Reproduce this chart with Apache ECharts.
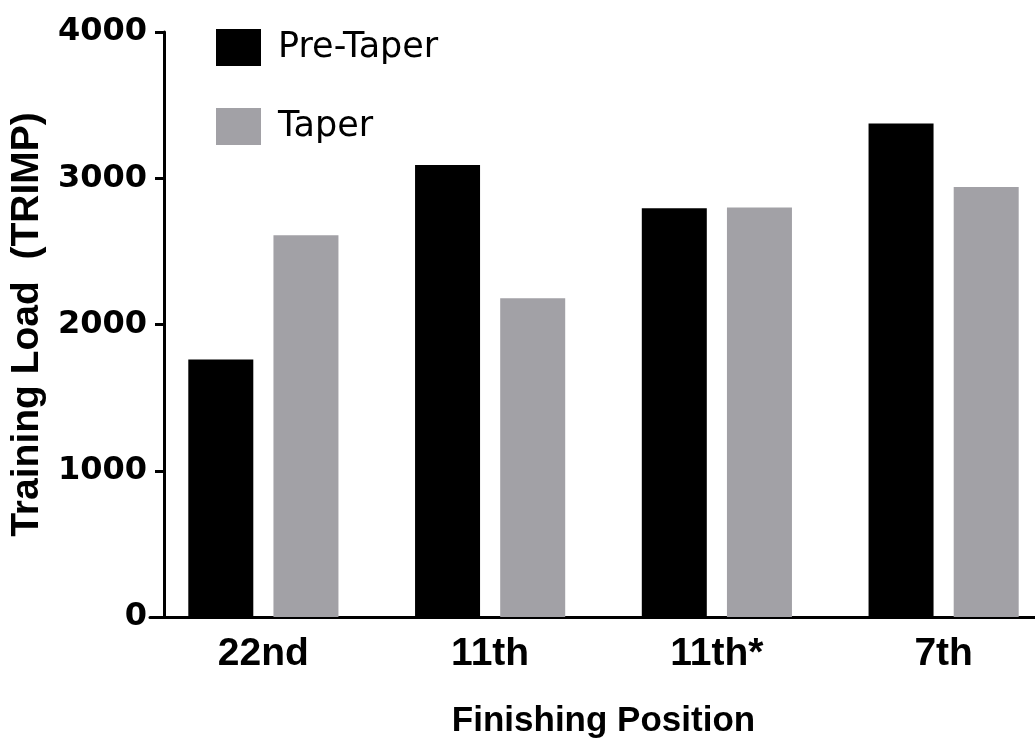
<!DOCTYPE html>
<html>
<head>
<meta charset="utf-8">
<script src="https://cdn.jsdelivr.net/npm/echarts@6/dist/echarts.min.js"></script>
<style>
  html, body { margin: 0; padding: 0; background: #fff; }
  #container { width: 1035px; height: 740px; }
</style>
</head>
<body>
<div id="container"></div>
<script>
// finishing positions
var positions = ['22nd', '11th', '11th*', '7th'];
// training load (TRIMP)
var preTaper = [1760, 3090, 2795, 3375];
var taper = [2610, 2180, 2800, 2940];
var yTicks = [0, 1000, 2000, 3000, 4000];

var myChart = echarts.init(document.getElementById('container'));

var option = {
    backgroundColor: '#ffffff',
    animation: false,
    legend: {
        orient: 'vertical',
        left: 211,
        top: 24,
        itemWidth: 45,
        itemHeight: 37,
        itemGap: 42,
        icon: 'rect',
        textStyle: {
            fontFamily: 'DejaVu Sans',
            fontSize: 35,
            color: '#000',
            padding: [0, 0, 0, 12]
        },
        data: ['Pre-Taper', 'Taper']
    },
    grid: {
        left: 150,
        top: 32,
        width: 907,
        height: 585,
        outerBoundsMode: 'none',
        containLabel: false
    },
    xAxis: {
        type: 'category',
        data: positions,
        name: 'Finishing Position',
        nameLocation: 'middle',
        nameGap: 87,
        nameTextStyle: {
            fontFamily: 'Liberation Sans',
            fontWeight: 'bold',
            fontSize: 35,
            color: '#000'
        },
        axisLine: { lineStyle: { color: '#000', width: 3 } },
        axisTick: {
            alignWithLabel: true,
            length: 8,
            lineStyle: { color: '#000', width: 3 }
        },
        axisLabel: {
            margin: 18,
            fontFamily: 'Liberation Sans',
            fontWeight: 'bold',
            fontSize: 39,
            color: '#000'
        }
    },
    yAxis: {
        type: 'value',
        min: yTicks[0],
        max: yTicks[yTicks.length - 1],
        interval: 1000,
        offset: -14,
        name: 'Training Load  (TRIMP)',
        nameLocation: 'middle',
        nameGap: 116,
        nameTextStyle: {
            fontFamily: 'Liberation Sans',
            fontWeight: 'bold',
            fontSize: 39,
            color: '#000'
        },
        splitLine: { show: false },
        axisLine: { show: true, lineStyle: { color: '#000', width: 3 } },
        axisTick: {
            show: true,
            length: 9,
            lineStyle: { color: '#000', width: 3 }
        },
        axisLabel: {
            margin: 17,
            formatter: function (v) { return String(v); },
            fontFamily: 'DejaVu Sans',
            fontWeight: 'bold',
            fontSize: 32,
            color: '#000'
        }
    },
    series: [{
        name: 'Pre-Taper',
        type: 'bar',
        data: preTaper,
        barWidth: 65,
        barGap: '31%',
        itemStyle: { color: '#000000' }
    }, {
        name: 'Taper',
        type: 'bar',
        data: taper,
        barWidth: 65,
        itemStyle: { color: '#a2a1a6' }
    }]
};
myChart.setOption(option);
</script>
</body>
</html>
